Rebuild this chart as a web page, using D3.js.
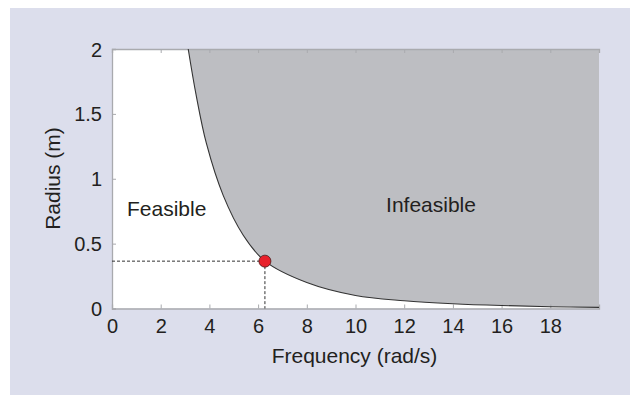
<!DOCTYPE html>
<html><head><meta charset="utf-8">
<script src="https://cdn.jsdelivr.net/npm/d3@7"></script>
<style>html,body{margin:0;padding:0;background:#fff;}svg{display:block;}</style>
</head><body>
<svg id="c" width="632" height="395"></svg>
<script>
// Data
const frequency = [3.13, 3.45, 3.88, 4.57, 5.39, 6.28, 8, 10, 12, 14, 16, 18, 20];
const radius    = [2.0, 1.65, 1.27, 0.87, 0.565, 0.365, 0.2, 0.1, 0.06, 0.037, 0.023, 0.014, 0.009];
const designPoint = [6.28, 0.365];
const xTicks = [0, 2, 4, 6, 8, 10, 12, 14, 16, 18];
const yTicks = [0, 0.5, 1, 1.5, 2];
const regionLabels = ["Feasible", "Infeasible"];

const svg = d3.select("#c");
const font = "'Liberation Sans', Arial, Helvetica, sans-serif";
const txt = "#231f20";

svg.append("rect").attr("x", 10).attr("y", 8).attr("width", 620).attr("height", 387).attr("fill", "#dcdeec");

const L = 112, R = 599, T = 49, B = 308.5;
const x = d3.scaleLinear().domain([0, 20]).range([L, R]);
const y = d3.scaleLinear().domain([0, 2]).range([B, T]);

svg.append("rect").attr("x", L).attr("y", T).attr("width", R - L).attr("height", B - T).attr("fill", "#fff");

const pts = frequency.map((f, i) => [f, radius[i]]);
const curve = d3.curveCatmullRom.alpha(0.5);

// infeasible region
const area = d3.area().x(d => x(d[0])).y0(y(2)).y1(d => y(d[1])).curve(curve);
svg.append("path").datum(pts).attr("d", area).attr("fill", "#bdbec2");

// axes
const gx = svg.append("g").attr("transform", `translate(0,${B})`)
  .call(d3.axisBottom(x).tickValues(xTicks).tickSize(-4).tickPadding(10).tickFormat(d3.format("d")));
const gxt = svg.append("g").attr("transform", `translate(0,${T})`)
  .call(d3.axisTop(x).tickValues(xTicks).tickSize(-4).tickFormat(""));
const gy = svg.append("g").attr("transform", `translate(${L},0)`)
  .call(d3.axisLeft(y).tickValues(yTicks).tickSize(-4).tickPadding(10).tickFormat(d => d));
[gx, gxt, gy].forEach(g => {
  g.select(".domain").attr("stroke", "#a9aaae").attr("stroke-width", 1.3);
  g.selectAll(".tick line").attr("stroke", "#a9aaae");
  g.selectAll("text").attr("fill", txt).style("font-family", font).style("font-size", "20px");
});
gy.selectAll("text").attr("dy", "0.35em");

// curve
const line = d3.line().x(d => x(d[0])).y(d => y(d[1])).curve(curve);
svg.append("path").datum(pts).attr("d", line).attr("fill", "none").attr("stroke", "#333").attr("stroke-width", 1.1);

// dashed guides
svg.append("line").attr("x1", x(0)).attr("x2", x(designPoint[0])).attr("y1", y(designPoint[1])).attr("y2", y(designPoint[1]))
  .attr("stroke", "#333").attr("stroke-dasharray", "3,2");
svg.append("line").attr("x1", x(designPoint[0])).attr("x2", x(designPoint[0])).attr("y1", y(designPoint[1])).attr("y2", y(0))
  .attr("stroke", "#333").attr("stroke-dasharray", "3,2");
svg.append("circle").attr("cx", x(designPoint[0])).attr("cy", y(designPoint[1])).attr("r", 6)
  .attr("fill", "#e8202a").attr("stroke", "#4a1a1a").attr("stroke-width", 0.8);

// region labels
svg.append("text").attr("x", 127).attr("y", 215.5).text(regionLabels[0])
  .attr("fill", txt).style("font-family", font).style("font-size", "21px");
svg.append("text").attr("x", 431).attr("y", 211.5).attr("text-anchor", "middle").text(regionLabels[1])
  .attr("fill", txt).style("font-family", font).style("font-size", "21px");

// axis titles
svg.append("text").attr("x", 354.5).attr("y", 363).attr("text-anchor", "middle").text("Frequency (rad/s)")
  .attr("fill", txt).style("font-family", font).style("font-size", "21px");
svg.append("text").attr("transform", "translate(60,178.5) rotate(-90)").attr("text-anchor", "middle").text("Radius (m)")
  .attr("fill", txt).style("font-family", font).style("font-size", "21px");
</script>
</body></html>
